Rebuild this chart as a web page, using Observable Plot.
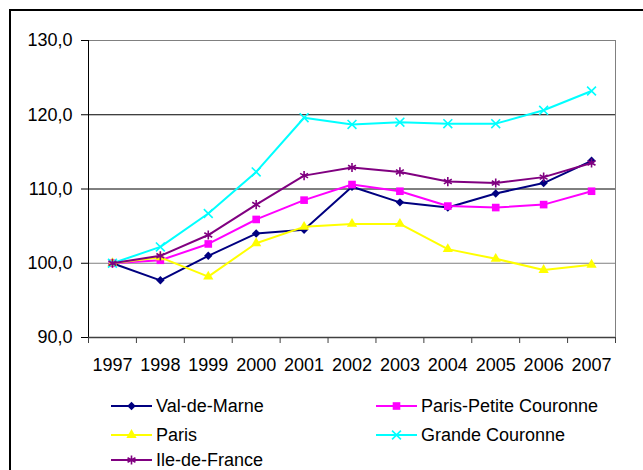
<!DOCTYPE html>
<html><head><meta charset="utf-8">
<script src="https://cdn.jsdelivr.net/npm/d3@7"></script>
<script src="https://cdn.jsdelivr.net/npm/@observablehq/plot@0.6"></script>
<style>
body{margin:0;background:#fff;}
#wrap{position:relative;width:643px;height:470px;overflow:hidden;font-family:"Liberation Sans",Arial,sans-serif;background:#fff;}
#frame{position:absolute;left:9px;top:9px;width:700px;height:500px;border:2px solid #000;}
#chart{position:absolute;left:0;top:0;}
.leg{position:absolute;height:14px;line-height:14px;font-size:18px;color:#000;white-space:nowrap;}
.leg svg{position:absolute;left:0;top:0px;}
.leg span{position:absolute;top:0;}
</style></head>
<body><div id="wrap"><div id="frame"></div><div id="chart"></div></div>
<script>
const years = [1997, 1998, 1999, 2000, 2001, 2002, 2003, 2004, 2005, 2006, 2007];
const yTicks = [90, 100, 110, 120, 130];
const seriesNames = ["Val-de-Marne", "Paris-Petite Couronne", "Paris", "Grande Couronne", "Ile-de-France"];
const valDeMarne = [100, 97.7, 101.0, 104.0, 104.5, 110.3, 108.2, 107.5, 109.4, 110.8, 113.8];
const parisPetiteCouronne = [100, 100.4, 102.6, 105.9, 108.5, 110.6, 109.7, 107.7, 107.5, 107.9, 109.7];
const paris = [100, 100.8, 98.2, 102.7, 104.9, 105.3, 105.3, 101.9, 100.6, 99.1, 99.8];
const grandeCouronne = [100, 102.2, 106.7, 112.3, 119.6, 118.7, 119.0, 118.8, 118.8, 120.6, 123.2];
const ileDeFrance = [100, 101.0, 103.8, 107.9, 111.8, 112.9, 112.3, 111.0, 110.8, 111.6, 113.5];

const seriesValues = [valDeMarne, parisPetiteCouronne, paris, grandeCouronne, ileDeFrance];
const colors = ["#000080", "#FF00FF", "#FFFF00", "#00FFFF", "#800080"];
const symbols = ["diamond2", "square", "triangle", "times", "asterisk"];
const filled = [true, true, true, false, false];
const radii = [3.8, 4.3, 3.8, 4.1, 4.3];

const data = seriesNames.flatMap((n, i) => years.map((y, j) => ({series: n, year: y, value: seriesValues[i][j]})));
const bounds = d3.range(years.length + 1).map(i => years[0] - 0.5 + i);
const fmt = d => d.toFixed(1).replace(".", ",");

const marks = [
  Plot.ruleY([100], {stroke: "#808080", strokeWidth: 1}),
  Plot.ruleY([110, 120], {stroke: "#000", strokeWidth: 1}),
  Plot.frame({stroke: "#808080"}),
  Plot.ruleX([bounds[0]], {stroke: "#000", strokeWidth: 1}),
  Plot.ruleY([yTicks[0]], {stroke: "#404040", strokeWidth: 1.5}),
  Plot.axisY({ticks: yTicks, tickFormat: fmt, tickSize: 7, tickPadding: 9, fontSize: 18, label: null, stroke: "#000"}),
  Plot.axisX({ticks: years, tickSize: 0, tickPadding: 21, fontSize: 18, tickFormat: d => String(d), label: null}),
  Plot.axisX({ticks: bounds, tickSize: 6, tickFormat: () => "", label: null, stroke: "#404040"})
];
seriesNames.forEach((n, i) => {
  const d = data.filter(r => r.series === n);
  marks.push(Plot.line(d, {x: "year", y: "value", stroke: colors[i], strokeWidth: 2}));
  marks.push(Plot.dot(d, filled[i]
    ? {x: "year", y: "value", symbol: symbols[i], r: radii[i], fill: colors[i], stroke: "none"}
    : {x: "year", y: "value", symbol: symbols[i], r: radii[i], stroke: colors[i], strokeWidth: 1.6, fill: "none"}));
});

const chart = Plot.plot({
  width: 643, height: 380,
  marginLeft: 88, marginRight: 28, marginTop: 40, marginBottom: 43,
  x: {domain: [bounds[0], bounds[bounds.length - 1]], label: null},
  y: {domain: [yTicks[0], yTicks[yTicks.length - 1]], label: null},
  style: {fontFamily: "'Liberation Sans', Arial, sans-serif", fontSize: "18px", color: "#000", background: "transparent", overflow: "visible"},
  marks
});
document.getElementById("chart").appendChild(chart);

// Legend
const symMap = {diamond2: d3.symbolDiamond2, square: d3.symbolSquare, triangle: d3.symbolTriangle, times: d3.symbolTimes, asterisk: d3.symbolAsterisk};
const legCols = [111, 376];
const legRows = [405.7, 434.5, 460];
const wrap = document.getElementById("wrap");
seriesNames.forEach((n, i) => {
  const col = i % 2, row = Math.floor(i / 2);
  const div = document.createElement("div");
  div.className = "leg";
  div.style.left = legCols[col] + "px";
  div.style.top = (legRows[row] - 7) + "px";
  const path = d3.symbol(symMap[symbols[i]], Math.PI * radii[i] * radii[i])();
  div.innerHTML = `<svg width="41" height="14" viewBox="0 0 41 14">
    <line x1="0" x2="41" y1="7" y2="7" stroke="${colors[i]}" stroke-width="2"/>
    <path transform="translate(20.5,7)" d="${path}" ${filled[i] ? `fill="${colors[i]}"` : `fill="none" stroke="${colors[i]}" stroke-width="1.6"`}/>
  </svg><span style="left:45px">${n}</span>`;
  wrap.appendChild(div);
});
</script>
</body></html>
